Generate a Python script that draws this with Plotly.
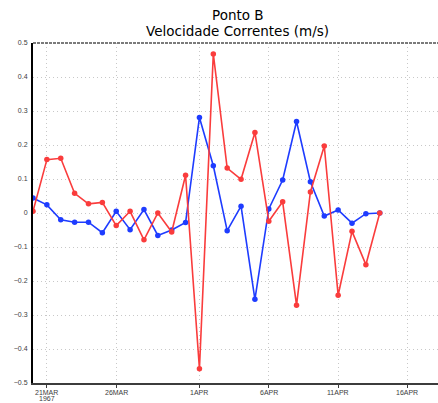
import plotly.graph_objects as go
import pandas as pd

dates = pd.date_range("1967-03-20", "1967-04-14", freq="D")
red_vals = [0.005, 0.157, 0.161, 0.058, 0.027, 0.031, -0.037, 0.005, -0.079, 0.0,
            -0.056, 0.111, -0.458, 0.468, 0.132, 0.099, 0.237, -0.024, 0.033, -0.271,
            0.062, 0.197, -0.242, -0.054, -0.152, 0.0]
blue_vals = [0.044, 0.024, -0.020, -0.027, -0.027, -0.058, 0.005, -0.049, 0.010, -0.066,
             -0.050, -0.028, 0.281, 0.139, -0.052, 0.020, -0.254, 0.012, 0.097, 0.269,
             0.092, -0.009, 0.009, -0.030, -0.002, 0.0]
x_tickvals = ["1967-03-21", "1967-03-26", "1967-04-01", "1967-04-06", "1967-04-11", "1967-04-16"]
x_ticktext = ["21MAR", "26MAR", "1APR", "6APR", "11APR", "16APR"]
year_label = "1967"
y_tickvals = [0.5, 0.4, 0.3, 0.2, 0.1, 0, -0.1, -0.2, -0.3, -0.4, -0.5]
y_ticktext = ["0.5", "0.4", "0.3", "0.2", "0.1", "0", "\u22120.1", "\u22120.2", "\u22120.3", "\u22120.4", "\u22120.5"]

RED = "rgb(250,60,60)"
BLUE = "rgb(30,60,255)"
LABEL_FONT = dict(family="Liberation Sans", size=7, color="rgb(60,60,60)")

fig = go.Figure()
fig.add_trace(go.Scatter(x=dates, y=blue_vals, mode="lines+markers",
                         line=dict(color=BLUE, width=1.6),
                         marker=dict(color=BLUE, size=5.5), showlegend=False))
fig.add_trace(go.Scatter(x=dates, y=red_vals, mode="lines+markers",
                         line=dict(color=RED, width=1.6),
                         marker=dict(color=RED, size=5.5), showlegend=False))

x0 = pd.Timestamp("1967-03-20")
x1 = x0 + pd.Timedelta(days=405 / 13.87)

fig.update_xaxes(range=[x0, x1], tickvals=x_tickvals, ticktext=["" for _ in x_ticktext],
                 showgrid=True, gridcolor="rgb(200,200,200)", griddash="1px,3px", gridwidth=1,
                 showline=True, linecolor="rgb(60,60,60)", linewidth=1.5,
                 ticks="outside", ticklen=3, tickcolor="rgb(60,60,60)",
                 tickfont=LABEL_FONT, automargin=False,
                 zeroline=False, fixedrange=True)
fig.update_yaxes(range=[-0.5, 0.5], tickvals=y_tickvals, ticktext=y_ticktext,
                 showgrid=True, gridcolor="rgb(200,200,200)", griddash="1px,3px", gridwidth=1,
                 showline=True, linecolor="black", linewidth=2, ticklabelstandoff=2,
                 ticks="", tickfont=LABEL_FONT, automargin=False,
                 zeroline=False, fixedrange=True)

# x tick labels
for tv, tt in zip(x_tickvals, x_ticktext):
    fig.add_annotation(text=tt, x=tv, xref="x", yref="paper", y=0, yshift=-9,
                       showarrow=False, xanchor="center", yanchor="middle", font=LABEL_FONT)
fig.add_annotation(text=year_label, x=x_tickvals[0], xref="x", yref="paper", y=0, yshift=-15.5,
                   showarrow=False, xanchor="center", yanchor="middle", font=LABEL_FONT)

# top frame (dashed)
fig.add_shape(type="line", xref="paper", yref="paper", x0=0, x1=1, y0=1, y1=1,
              line=dict(color="rgb(80,80,80)", width=1.5, dash="3px,1px"))

fig.add_annotation(text="Ponto B", xref="paper", yref="paper", x=0.505, y=1.0,
                   yshift=28, showarrow=False, xanchor="center", yanchor="middle",
                   font=dict(family="DejaVu Sans", size=13.5, color="black"))
fig.add_annotation(text="Velocidade Correntes (m/s)", xref="paper", yref="paper", x=0.505, y=1.0,
                   yshift=12, showarrow=False, xanchor="center", yanchor="middle",
                   font=dict(family="DejaVu Sans", size=13.5, color="black"))

fig.update_layout(width=438, height=403, margin=dict(l=33, r=0, t=43, b=20, autoexpand=False),
                  paper_bgcolor="white", plot_bgcolor="white")
fig.write_html("out.html", config={"displayModeBar": False, "staticPlot": True},
               post_script="document.body.style.margin='0';document.body.style.overflow='hidden';")
